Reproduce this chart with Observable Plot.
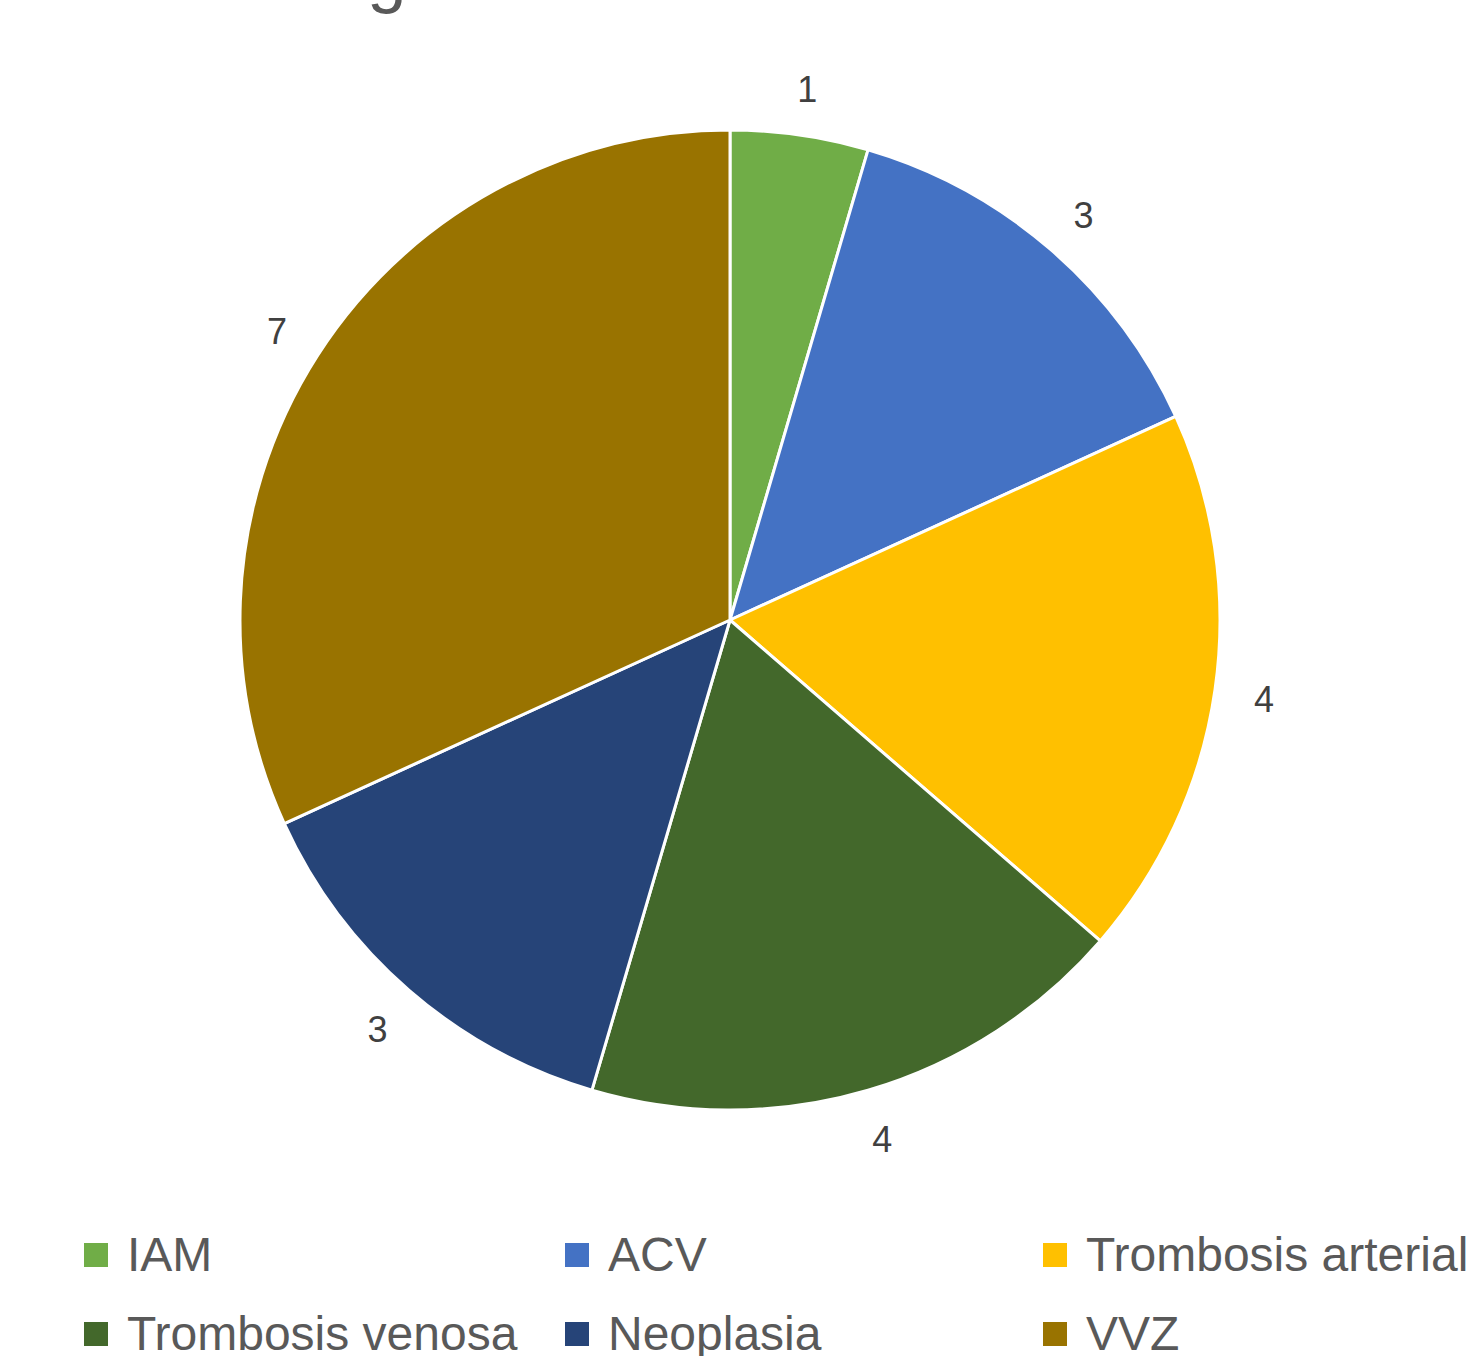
<!DOCTYPE html>
<html><head><meta charset="utf-8">
<script src="https://cdn.jsdelivr.net/npm/d3@7"></script>
<script src="https://cdn.jsdelivr.net/npm/@observablehq/plot@0.6"></script>
<style>
html,body{margin:0;padding:0;background:#fff;overflow:hidden;}
#wrap{position:relative;width:1482px;height:1356px;overflow:hidden;font-family:"Liberation Sans Narrow","Arial Narrow","Liberation Sans",sans-serif;}
#title{position:absolute;left:0;width:1460px;text-align:center;top:-60px;font-size:71px;line-height:69px;color:#595959;white-space:nowrap;z-index:2;}
#chart{position:absolute;left:0;top:0;}
.item{position:absolute;display:flex;align-items:center;font-size:48px;line-height:48px;color:#595959;white-space:nowrap;}
.sw{width:24px;height:24px;margin-right:19px;flex:none;}
</style></head>
<body><div id="wrap"><div id="title"></div><div id="chart"></div><div id="legend"></div></div>
<script>
const title = "Figura 3. Efectos adversos";
const categories = ["IAM","ACV","Trombosis arterial","Trombosis venosa","Neoplasia","VVZ"];
const counts = [1,3,4,4,3,7];
const colors = ["#70AD47","#4472C4","#FFC000","#43682B","#264478","#997300"];

document.getElementById("title").textContent = title;

const data = categories.map((c,i)=>({category:c, count:counts[i]}));
const arcs = d3.pie().sort(null).value(d=>d.count)(data);
const labelR = 1.10;
const labels = arcs.map(a=>{
  const m=(a.startAngle+a.endAngle)/2;
  return {x: labelR*Math.sin(m), y: labelR*Math.cos(m), text: String(a.data.count)};
});

const W=1482,H=1200,R=490,CX=730,CY=620;

function slices(index, scales) {
  const cx=scales.x(0), cy=scales.y(0), r=scales.x(1)-scales.x(0);
  const arc=d3.arc().innerRadius(0).outerRadius(r);
  const g=d3.create("svg:g").attr("transform",`translate(${cx},${cy})`);
  g.selectAll("path").data(arcs).join("path")
    .attr("d",arc)
    .attr("fill",d=>scales.color(d.data.category))
    .attr("stroke","white").attr("stroke-width",3).attr("stroke-linejoin","round");
  return g.node();
}

const chart = Plot.plot({
  width:W, height:H, margin:0,
  x:{domain:[-CX/R,(W-CX)/R], axis:null},
  y:{domain:[-(H-CY)/R, CY/R], axis:null},
  color:{domain:categories, range:colors},
  style:{fontFamily:'"Liberation Sans Narrow","Arial Narrow","Liberation Sans",sans-serif', background:"white"},
  marks:[
    Plot.dot(data,{x:()=>0,y:()=>0,r:0,fill:"category"}),
    slices,
    Plot.text(labels,{x:"x",y:"y",text:"text",fontSize:36,fill:"#404040",dy:3})
  ]
});
document.getElementById("chart").appendChild(chart);

const cols=[84,565,1043], rows=[1231,1310];
const leg=document.getElementById("legend");
categories.forEach((c,i)=>{
  const it=document.createElement("div");
  it.className="item";
  it.style.left=cols[i%3]+"px"; it.style.top=rows[Math.floor(i/3)]+"px";
  const sw=document.createElement("div"); sw.className="sw"; sw.style.background=colors[i];
  const t=document.createElement("span"); t.textContent=c;
  it.appendChild(sw); it.appendChild(t); leg.appendChild(it);
});
</script></body></html>
